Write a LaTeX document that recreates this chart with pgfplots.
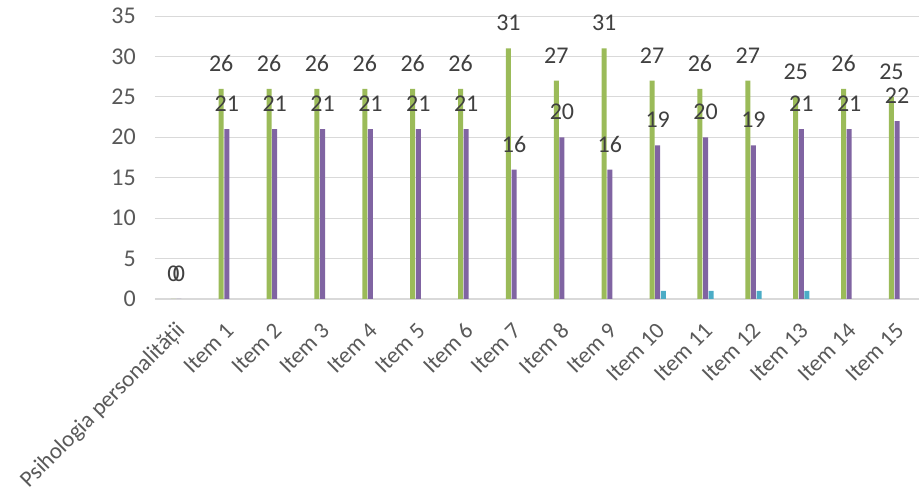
\documentclass[border=0pt]{standalone}
\usepackage{fontspec}
\setmainfont{Carlito}
\usepackage{pgfplots}
\pgfplotsset{compat=1.18}
\definecolor{cgreen}{HTML}{9BBB59}
\definecolor{cpurple}{HTML}{8064A2}
\definecolor{cblue}{HTML}{4BACC6}
\definecolor{cgrid}{HTML}{D9D9D9}
\definecolor{ctext}{HTML}{595959}
\definecolor{clabel}{HTML}{404040}
\begin{document}
\begin{tikzpicture}
\useasboundingbox (-155pt,-198pt) rectangle (764pt,299pt);
\begin{axis}[
  at={(0,0)}, anchor=south west,
  scale only axis, width=766pt, height=283pt,
  ybar=0.6pt, bar width=5pt,
  xmin=-0.5, xmax=15.5, ymin=0, ymax=35,
  ytick={0,5,...,35},
  xtick={0,...,15},
  xticklabels={Psihologia personalității, Item 1, Item 2, Item 3, Item 4, Item 5, Item 6, Item 7, Item 8, Item 9, Item 10, Item 11, Item 12, Item 13, Item 14, Item 15},
  ymajorgrids, grid style={cgrid, line width=0.9pt},
  axis x line*=bottom, axis y line*=left,
  y axis line style={draw=none},
  x axis line style={cgrid, line width=1.2pt},
  major tick length=0pt,
  /pgf/number format/assume math mode=true,
  tick label style={font=\fontsize{24}{28}\selectfont, text=ctext},
  yticklabel style={anchor=east, inner sep=0pt, xshift=-19pt},
  xticklabel style={font=\fontsize{23}{27}\selectfont, xshift=3pt, yshift=-28pt, rotate=45, anchor=east, inner sep=0pt},
  every node near coord/.append style={font=\fontsize{24}{28}\selectfont, text=clabel, anchor=base, inner sep=0pt, yshift=17.5pt},
  clip=false,
]
\addplot[fill=cgreen, draw=none, nodes near coords] coordinates {
 (0,0) (1,26) (2,26) (3,26) (4,26) (5,26) (6,26) (7,31) (8,27) (9,31) (10,27) (11,26) (12,27) (13,25) (14,26) (15,25)};
\addplot[fill=cpurple, draw=none, nodes near coords] coordinates {
 (0,0) (1,21) (2,21) (3,21) (4,21) (5,21) (6,21) (7,16) (8,20) (9,16) (10,19) (11,20) (12,19) (13,21) (14,21) (15,22)};
\addplot[fill=cblue, draw=none] coordinates {
 (10,1) (11,1) (12,1) (13,1)};
\end{axis}
\end{tikzpicture}
\end{document}
